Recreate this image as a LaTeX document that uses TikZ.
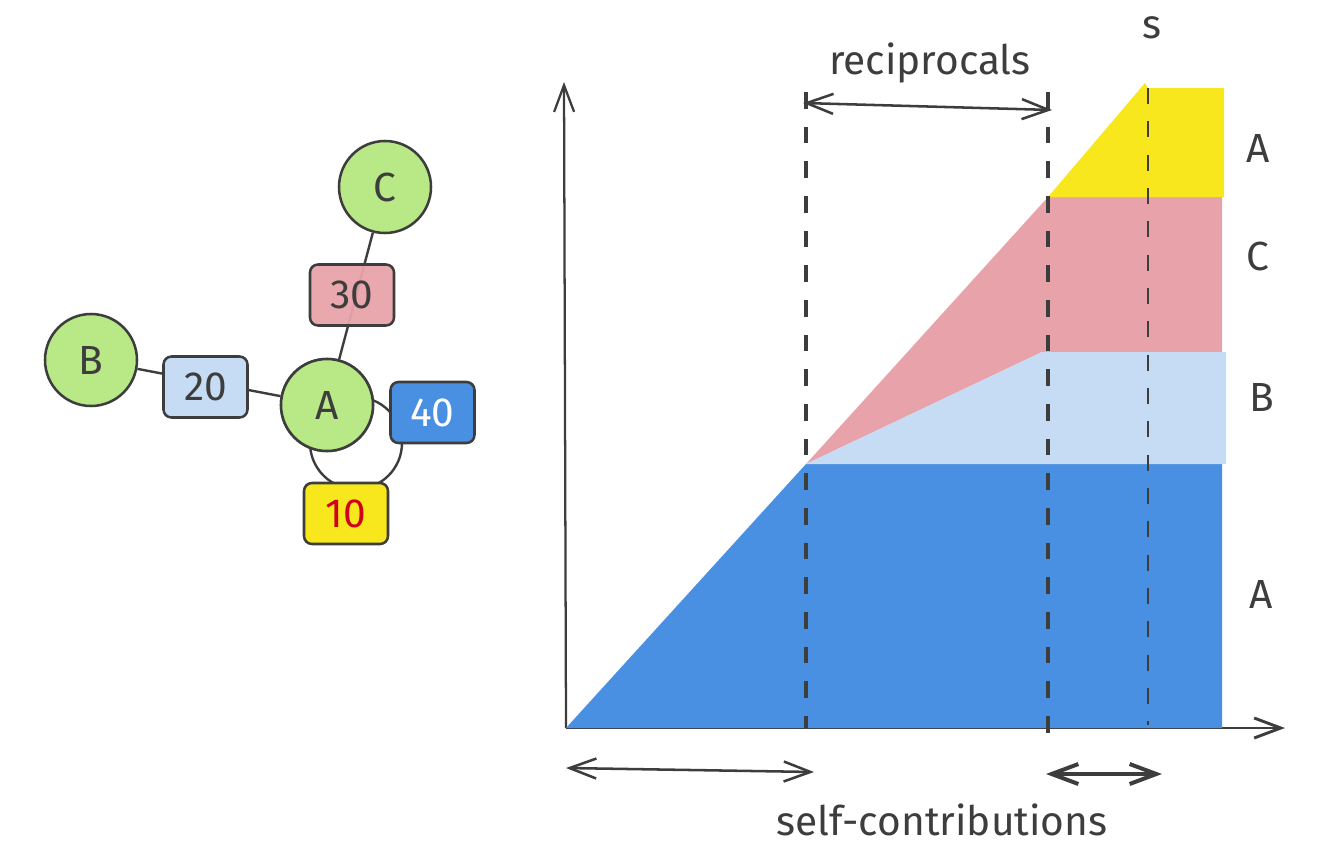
\documentclass[tikz,border=0pt]{standalone}
\usepackage{fontspec}
\setmainfont{Fira Sans}
\usetikzlibrary{arrows.meta}
\definecolor{ink}{HTML}{3D3D3D}
\definecolor{vgreen}{HTML}{B8E986}
\definecolor{lblue}{HTML}{C6DCF5}
\definecolor{pinkc}{HTML}{E8A3AA}
\definecolor{bluec}{HTML}{4A90E2}
\definecolor{yellowc}{HTML}{F8E71C}
\definecolor{redc}{HTML}{D0021B}
\begin{document}
\begin{tikzpicture}[x=0.75pt,y=-0.75pt,
  bigfont/.style={font=\fontsize{30.5}{36}\selectfont},
  vert/.style={circle,draw=ink,line width=1.9pt,fill=vgreen,minimum size=69pt,inner sep=0pt,bigfont,text=ink},
  wbox/.style={rounded corners=6pt,draw=ink,line width=1.9pt,minimum width=63pt,minimum height=45.75pt,inner sep=0pt,bigfont,text=ink},
  link/.style={draw=ink,line width=1.8pt},
  dim/.style={draw=ink,line width=1.9pt,{Straight Barb[length=20pt,width=15pt]}-{Straight Barb[length=20pt,width=15pt]}},
  guide/.style={draw=ink,line width=2.6pt,dash pattern=on 12.5pt off 13.5pt},
  lbl/.style={bigfont,text=ink,inner sep=0pt}
]
\useasboundingbox (0,0) rectangle (1320,846);

% ---------------- graph ----------------
\coordinate (loopc) at (356,443);
\draw[link] (loopc) circle (46);
\node[vert] (C) at (385,187) {C};
\node[vert] (B) at (91,360) {B};
\node[vert] (A) at (327,405) {A};
\draw[link] (C) -- (A);
\draw[link] (B) -- (A);
\node[vert] at (A) {A};
\node[wbox,fill=pinkc,fill opacity=0.95,text opacity=1] (w30) at (352,295) {30};
\node[wbox,fill=lblue] (w20) at (205.5,387) {20};
\node[wbox,fill=bluec,text=white] (w40) at (432.5,412.5) {40};
\node[wbox,fill=yellowc,text=redc] (w10) at (346,513.5) {10};

% ---------------- chart ----------------
\coordinate (O) at (566,728);
\coordinate (ytop) at (564,82);
\coordinate (xend) at (1285,728);
\draw[ink,line width=1.7pt,-{Straight Barb[length=20pt,width=15pt]}] (O) -- (ytop);
\draw[ink,line width=2.2pt,-{Straight Barb[length=20pt,width=15pt]}] (O) -- (xend);

\fill[bluec] (566,728) -- (806,464) -- (1222,464) -- (1222,728) -- cycle;
\fill[pinkc] (806,464) -- (1048,197) -- (1222,197) -- (1222,352) -- (1042,352) -- cycle;
\fill[lblue] (806,464) -- (1042,352) -- (1226,352) -- (1226,464) -- cycle;
\fill[yellowc] (1048,197) -- (1145,83) -- (1148,88) -- (1224,88) -- (1224,197) -- cycle;

\coordinate (d1t) at (806,92);  \coordinate (d1b) at (806,728);
\coordinate (d2t) at (1048,92); \coordinate (d2b) at (1048,740);
\coordinate (d3t) at (1148,88); \coordinate (d3b) at (1148,725);
\draw[guide] (d1t) -- (d1b);
\draw[guide] (d2t) -- (d2b);
\draw[draw=ink,line width=2pt,dash pattern=on 12pt off 13pt] (d3t) -- (d3b);

\coordinate (r1) at (803,103); \coordinate (r2) at (1052,110);
\draw[dim] (r1) -- (r2);
\coordinate (s1) at (566,768); \coordinate (s2) at (814,772);
\draw[dim] (s1) -- (s2);
\coordinate (s3) at (1046,774); \coordinate (s4) at (1162,774);
\draw[dim,line width=3pt] (s3) -- (s4);

\node[lbl] (ls) at (1152,28) {s};
\node[lbl] (lrec) at (930,63) {reciprocals};
\node[lbl] (lself) at (942,820) {self-contributions};
\node[lbl] (la1) at (1258,148) {A};
\node[lbl] (lc) at (1258,256) {C};
\node[lbl] (lb) at (1262,397) {B};
\node[lbl] (la2) at (1261,594) {A};
\end{tikzpicture}
\end{document}
